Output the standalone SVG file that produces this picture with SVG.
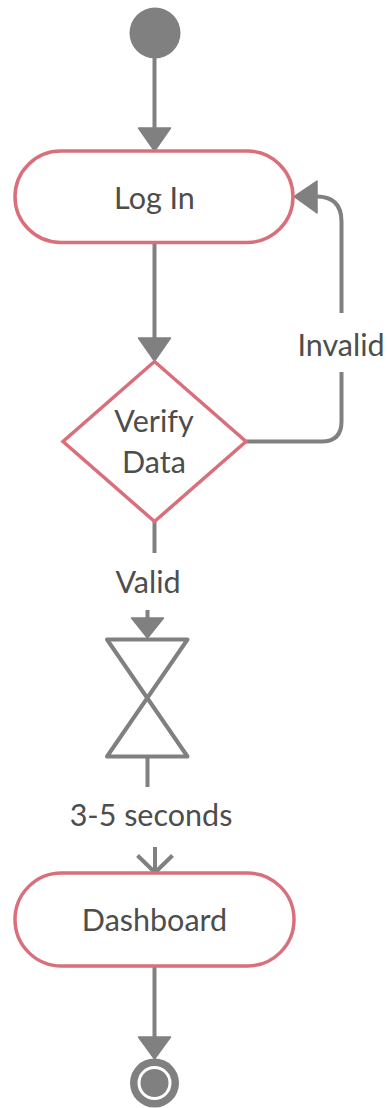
<svg xmlns="http://www.w3.org/2000/svg" width="388" height="1108" viewBox="0 0 388 1108">
<style>
.term{fill:#fff;stroke:#d96f7b;stroke-width:3.5}
.conn{fill:none;stroke:#808080;stroke-width:4}
.lbl{font-family:Lato,"Liberation Sans",sans-serif;font-size:30.5px;fill:#4d4d4d;text-anchor:middle}
.gray{fill:#808080}
</style>
<rect width="388" height="1108" fill="#fff"/>
<g id="connectors">
<path class="conn" d="M154.5,58 V140" />
<path d="M138.5,128 L170.5,128 L154.5,151 Z" class="gray" stroke="#808080" stroke-width="1.5" stroke-linejoin="round"/>
<path class="conn" d="M154.5,243 V345" />
<path d="M138.5,338 L170.5,338 L154.5,361 Z" class="gray" stroke="#808080" stroke-width="1.5" stroke-linejoin="round"/>
<path class="conn" d="M246,441.5 H321.5 Q341.5,441.5 341.5,421.5 V372" />
<path class="conn" d="M341.5,313 V221.5 Q341.5,196.5 316.5,196.5 H305" />
<path d="M317,181 L317,213 L294,196.5 Z" class="gray" stroke="#808080" stroke-width="1.5" stroke-linejoin="round"/>
<path class="conn" d="M154.5,522 V553" />
<path class="conn" d="M147.5,610 V625" />
<path d="M131.5,618 L163.5,618 L147.5,638 Z" class="gray" stroke="#808080" stroke-width="1.5" stroke-linejoin="round"/>
<path class="conn" d="M147.5,757 V787" />
<path class="conn" d="M155,847 V872" />
<path class="conn" d="M137.5,855.5 L155,872.5 L172.5,855.5" stroke-linejoin="round"/>
<path class="conn" d="M154.5,966 V1045" />
<path d="M138.5,1037 L170.5,1037 L154.5,1059 Z" class="gray" stroke="#808080" stroke-width="1.5" stroke-linejoin="round"/>
</g>
<g id="start">
<circle cx="155" cy="33" r="25.5" class="gray"/>
</g>
<g id="login">
<rect class="term" x="15" y="151" width="278" height="91.5" rx="45.75"/>
<text class="lbl" x="154.5" y="208.5">Log In</text>
</g>
<g id="verify">
<path class="term" d="M154.5,361.5 L246,441.5 L154.5,521.5 L63,441.5 Z"/>
<text class="lbl" x="154" y="431.5">Verify</text>
<text class="lbl" x="154" y="472.5">Data</text>
</g>
<g id="wait">
<path d="M107,639.5 H187.5 L107,756.5 H187.5 Z" fill="none" stroke="#808080" stroke-width="4" stroke-linejoin="round"/>
</g>
<g id="dashboard">
<rect class="term" x="15" y="873" width="279" height="93" rx="46.5"/>
<text class="lbl" x="154.5" y="931">Dashboard</text>
</g>
<g id="end">
<circle cx="154.5" cy="1083" r="24.5" class="gray"/>
<circle cx="154.5" cy="1083" r="15.5" fill="#808080" stroke="#fff" stroke-width="3"/>
</g>
<g id="labels">
<text class="lbl" x="341" y="356">Invalid</text>
<text class="lbl" x="148" y="592.5">Valid</text>
<text class="lbl" x="151" y="826">3-5 seconds</text>
</g>
</svg>
